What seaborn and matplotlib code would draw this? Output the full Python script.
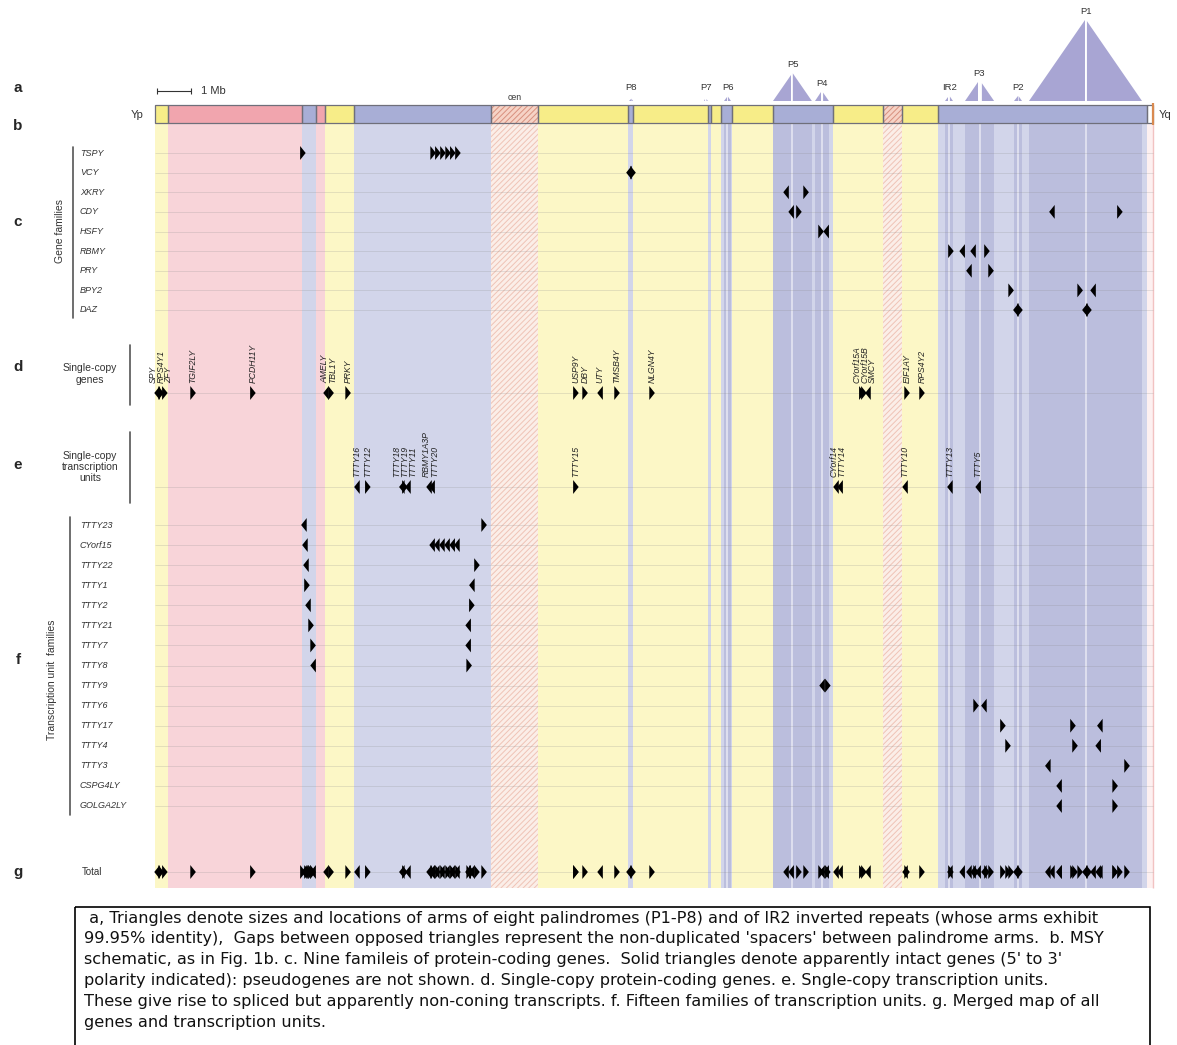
import matplotlib
matplotlib.use("Agg")
import matplotlib.pyplot as plt
import numpy as np
import pandas as pd
import seaborn as sns
from matplotlib.path import Path
from matplotlib.patches import Rectangle, Polygon

# ---- MSY schematic segments (Mb from Yp end) ----
seg_start = [0.00, 0.38, 4.32, 4.74, 5.00, 5.85, 9.88, 11.26, 13.91, 14.06, 16.26, 16.35,
             16.65, 16.97, 18.18, 19.94, 21.41, 21.97, 23.03, 29.18]
seg_end = [0.38, 4.32, 4.74, 5.00, 5.85, 9.88, 11.26, 13.91, 14.06, 16.26, 16.35, 16.65,
           16.97, 18.18, 19.94, 21.41, 21.97, 23.03, 29.18, 29.35]
seg_kind = ['X-degenerate', 'X-transposed', 'ampliconic', 'X-transposed', 'X-degenerate',
            'ampliconic', 'heterochromatic', 'X-degenerate', 'ampliconic', 'X-degenerate',
            'ampliconic', 'X-degenerate', 'ampliconic', 'X-degenerate', 'ampliconic',
            'X-degenerate', 'heterochromatic', 'X-degenerate', 'ampliconic', 'other']

# ---- palindromes: arm extents (Mb) ----
pal_names = ['P8', 'P7', 'P6', 'P5', 'P4', 'IR2', 'P3', 'P2', 'P1']
pal_arm1 = [(13.94, 13.99), (16.15, 16.19), (16.74, 16.82), (18.18, 18.71), (19.41, 19.59),
            (23.24, 23.32), (23.82, 24.21), (25.26, 25.37), (25.71, 27.35)]
pal_arm2 = [(14.01, 14.06), (16.22, 16.26), (16.85, 16.94), (18.76, 19.32), (19.65, 19.82),
            (23.38, 23.47), (24.32, 24.68), (25.40, 25.50), (27.41, 29.03)]

# ---- c. gene families ----
fam_names = ['TSPY', 'VCY', 'XKRY', 'CDY', 'HSFY', 'RBMY', 'PRY', 'BPY2', 'DAZ']
fam_pos = {
    'TSPY': [4.35, 8.18, 8.32, 8.47, 8.62, 8.76, 8.91],
    'VCY': [13.94, 14.06],
    'XKRY': [18.56, 19.15],
    'CDY': [18.71, 18.94, 26.38, 28.38],
    'HSFY': [19.59, 19.74],
    'RBMY': [23.41, 23.74, 24.06, 24.47],
    'PRY': [23.94, 24.59],
    'BPY2': [25.18, 27.21, 27.59],
    'DAZ': [25.32, 25.44, 27.35, 27.47],
}
fam_dir = {'TSPY': '>>>>>>>', 'VCY': '<>', 'XKRY': '<>', 'CDY': '<><>', 'HSFY': '><',
           'RBMY': '><<>', 'PRY': '<>', 'BPY2': '>><', 'DAZ': '<><>'}

# ---- d. single-copy genes ----
scg_names = ['SPY', 'RPS4Y1', 'ZFY', 'TGIF2LY', 'PCDH11Y', 'AMELY', 'TBL1Y', 'PRKY', 'USP9Y',
             'DBY', 'UTY', 'TMSB4Y', 'NLGN4Y', 'CYorf15A', 'CYorf15B', 'SMCY', 'EIF1AY', 'RPS4Y2']
scg_pos = [0.06, 0.18, 0.29, 1.12, 2.88, 5.03, 5.18, 5.68, 12.38, 12.65, 13.09, 13.59, 14.62,
           20.79, 20.85, 20.97, 22.12, 22.56]
scg_dir = '<>>>><>>>><>>>><>>'

# ---- e. single-copy transcription units ----
sctu_names = ['TTTY16', 'TTTY12', 'TTTY18', 'TTTY19', 'TTTY11', 'RBMY1A3P', 'TTTY20', 'TTTY15',
              'CYorf14', 'TTTY14', 'TTTY10', 'TTTY13', 'TTTY5']
sctu_pos = [5.94, 6.26, 7.26, 7.35, 7.44, 8.06, 8.15, 12.38, 20.03, 20.15, 22.06, 23.38, 24.21]
sctu_dir = '<><><<<><<<<<'

# ---- f. transcription unit families ----
tuf_names = ['TTTY23', 'CYorf15', 'TTTY22', 'TTTY1', 'TTTY2', 'TTTY21', 'TTTY7', 'TTTY8',
             'TTTY9', 'TTTY6', 'TTTY17', 'TTTY4', 'TTTY3', 'CSPG4LY', 'GOLGA2LY']
tuf_pos = {
    'TTTY23': [4.38, 9.68],
    'CYorf15': [4.41, 8.15, 8.29, 8.44, 8.59, 8.74, 8.88],
    'TTTY22': [4.44, 9.47],
    'TTTY1': [4.47, 9.32],
    'TTTY2': [4.50, 9.32],
    'TTTY21': [4.59, 9.21],
    'TTTY7': [4.65, 9.21],
    'TTTY8': [4.65, 9.24],
    'TTTY9': [19.62, 19.79],
    'TTTY6': [24.15, 24.38],
    'TTTY17': [24.94, 27.00, 27.79],
    'TTTY4': [25.09, 27.06, 27.74],
    'TTTY3': [26.26, 28.59],
    'CSPG4LY': [26.59, 28.24],
    'GOLGA2LY': [26.59, 28.24],
}
tuf_dir = {'TTTY23': '<>', 'CYorf15': '<<<<<<<', 'TTTY22': '<>', 'TTTY1': '><', 'TTTY2': '<>',
           'TTTY21': '><', 'TTTY7': '><', 'TTTY8': '<>', 'TTTY9': '<>', 'TTTY6': '><',
           'TTTY17': '>><', 'TTTY4': '>><', 'TTTY3': '<>', 'CSPG4LY': '<>', 'GOLGA2LY': '<>'}

caption = [
    " a, Triangles denote sizes and locations of arms of eight palindromes (P1-P8) and of IR2 inverted repeats (whose arms exhibit",
    "99.95% identity),  Gaps between opposed triangles represent the non-duplicated 'spacers' between palindrome arms.  b. MSY",
    "schematic, as in Fig. 1b. c. Nine famileis of protein-coding genes.  Solid triangles denote apparently intact genes (5' to 3'",
    "polarity indicated): pseudogenes are not shown. d. Single-copy protein-coding genes. e. Sngle-copy transcription units.",
    "These give rise to spliced but apparently non-coning transcripts. f. Fifteen families of transcription units. g. Merged map of all",
    "genes and transcription units.",
]

# ---- layout ----
W, H = 1177, 1045
X0, PX_PER_MB = 155, 34.0


def mb(px):
    return (px - X0) / PX_PER_MB


def spread(xs, gap):
    xs = np.asarray(xs, dtype=float)
    order = np.argsort(xs)
    orig = xs[order]
    out = orig.copy()
    for _ in range(5):
        for i in range(1, len(out)):
            if out[i] < out[i - 1] + gap:
                out[i] = out[i - 1] + gap
        start = 0
        for i in range(1, len(out) + 1):
            if i == len(out) or out[i] - out[i - 1] > gap + 1e-6:
                out[start:i] += orig[start:i].mean() - out[start:i].mean()
                start = i
    res = np.empty_like(out)
    res[order] = out
    return res


BAR_TOP, BAR_BOT, BAND_BOT, TRI_BASE = 105, 123, 888, 101
fam_y = dict(zip(fam_names, np.linspace(153, 310, len(fam_names))))
tuf_y = dict(zip(tuf_names, np.linspace(525, 806, len(tuf_names))))
SCG_Y, SCTU_Y, TOTAL_Y = 393, 487, 872

bar_color = {'X-degenerate': '#F7ED88', 'X-transposed': '#F1A5AE', 'ampliconic': '#A8AED6',
             'heterochromatic': '#F6D3C6', 'other': '#FFFFFF'}
band_color = {'X-degenerate': '#FCF7C6', 'X-transposed': '#F8D4D9', 'ampliconic': '#D2D5EA',
              'heterochromatic': '#FBEEE8', 'other': '#FDF0F0'}

sns.set_style("white")
plt.rcParams['font.family'] = ['Liberation Sans', 'DejaVu Sans']
plt.rcParams['hatch.linewidth'] = 0.7

fig = plt.figure(figsize=(W / 100, H / 100), dpi=100)
ax = fig.add_axes([0, 0, 1, 1])

# vertical bands and schematic bar
for s, e, k in zip(seg_start, seg_end, seg_kind):
    het = k == 'heterochromatic'
    ax.add_patch(Rectangle((s, BAR_BOT), e - s, BAND_BOT - BAR_BOT, facecolor=band_color[k],
                           edgecolor='#EFC3B6' if het else 'none', hatch='//////' if het else None,
                           lw=0, zorder=0))
    ax.add_patch(Rectangle((s, BAR_TOP), e - s, BAR_BOT - BAR_TOP, facecolor=bar_color[k],
                           edgecolor='#D8907E' if het else 'none', hatch='//////' if het else None,
                           lw=0, zorder=2))
    ax.add_patch(Rectangle((s, BAR_TOP), e - s, BAR_BOT - BAR_TOP, fill=False,
                           edgecolor='#6F6F7A', lw=0.9, zorder=3))
ax.vlines(seg_end[-1], BAR_BOT, BAND_BOT, color='#F2C2C2', lw=1.0, zorder=0)
ax.vlines(seg_end[-1], BAR_TOP - 2, BAR_BOT + 2, color='#D98A50', lw=1.6, zorder=3)

# palindromes: darker shading in bands + triangles above the bar
for name, a1, a2 in zip(pal_names, pal_arm1, pal_arm2):
    if a1[1] - a1[0] > 0.07:
        ax.add_patch(Rectangle((a1[0], BAR_BOT), a2[1] - a1[0], BAND_BOT - BAR_BOT,
                               facecolor='#BBBEDD', lw=0, zorder=0.2))
        ax.vlines((a1[1] + a2[0]) / 2, BAR_BOT, BAND_BOT, color='#E4E5F2', lw=1.2, zorder=0.3)
    h1 = 1.45 * PX_PER_MB * (a1[1] - a1[0])
    h2 = 1.45 * PX_PER_MB * (a2[1] - a2[0])
    ax.add_patch(Polygon([(a1[0], TRI_BASE), (a1[1], TRI_BASE), (a1[1], TRI_BASE - h1)],
                         closed=True, facecolor='#A8A5D3', edgecolor='none', zorder=2))
    ax.add_patch(Polygon([(a2[0], TRI_BASE), (a2[0], TRI_BASE - h2), (a2[1], TRI_BASE)],
                         closed=True, facecolor='#A8A5D3', edgecolor='none', zorder=2))
    ly = min(TRI_BASE - max(h1, h2) - 4, 92)
    ax.text((a1[0] + a2[1]) / 2, ly, name, ha='center', va='bottom', fontsize=6.8, color='#333333')

cen_i = seg_kind.index('heterochromatic')
ax.text((seg_start[cen_i] + seg_end[cen_i]) / 2, 102, 'cen', ha='center', va='bottom',
        fontsize=6.3, color='#333333')

# scale bar
ax.plot([0.05, 1.05], [91, 91], color='#333333', lw=0.8, marker='|', ms=4, mew=0.8)
ax.text(1.35, 91, '1 Mb', va='center', ha='left', fontsize=8, color='#333333')
ax.text(mb(137), 115, 'Yp', va='center', ha='center', fontsize=8, color='#333333')
ax.text(mb(1165), 115, 'Yq', va='center', ha='center', fontsize=8, color='#333333')

# faint row lines
row_ys = list(fam_y.values()) + [SCG_Y, SCTU_Y] + list(tuf_y.values()) + [TOTAL_Y]
ax.hlines(row_ys, 0, seg_end[-1], color='#8a8a8a', alpha=0.22, lw=0.7, zorder=1)

# markers
rows = []
for n in fam_names:
    rows += [(p, fam_y[n], d, 'c') for p, d in zip(fam_pos[n], fam_dir[n])]
rows += [(p, SCG_Y, d, 'd') for p, d in zip(scg_pos, scg_dir)]
rows += [(p, SCTU_Y, d, 'e') for p, d in zip(sctu_pos, sctu_dir)]
for n in tuf_names:
    rows += [(p, tuf_y[n], d, 'f') for p, d in zip(tuf_pos[n], tuf_dir[n])]
rows += [(p, TOTAL_Y, d, 'g') for p, _, d, _ in list(rows)]
df = pd.DataFrame(rows, columns=['pos', 'y', 'dir', 'panel'])

right_tri = Path([(-0.4, -1), (0.4, 0), (-0.4, 1), (-0.4, -1)],
                 [Path.MOVETO, Path.LINETO, Path.LINETO, Path.CLOSEPOLY])
left_tri = Path([(0.4, -1), (-0.4, 0), (0.4, 1), (0.4, -1)],
                [Path.MOVETO, Path.LINETO, Path.LINETO, Path.CLOSEPOLY])
sns.scatterplot(data=df, x='pos', y='y', style='dir', markers={'>': right_tri, '<': left_tri},
                color='black', s=100, linewidth=0, edgecolor='none', legend=False, ax=ax, zorder=5)

# rotated gene labels
for names, pos, y in [(scg_names, scg_pos, SCG_Y), (sctu_names, sctu_pos, SCTU_Y)]:
    for n, x in zip(names, spread(pos, 0.23)):
        ax.text(x, y - 10, n, rotation=90, ha='center', va='bottom', fontsize=6.2,
                style='italic', color='#222222')

# left-hand labels
for letter, y in zip('abcdefg', [88, 126, 222, 367, 465, 660, 872]):
    ax.text(mb(18), y, letter, fontsize=11, fontweight='bold', va='center', ha='center')
for n in fam_names:
    ax.text(mb(80), fam_y[n], n, fontsize=6.5, style='italic', va='center', color='#333333')
for n in tuf_names:
    ax.text(mb(80), tuf_y[n], n, fontsize=6.5, style='italic', va='center', color='#333333')
ax.text(mb(60), 231, 'Gene families', rotation=90, fontsize=7.5, va='center', ha='center',
        color='#333333')
ax.text(mb(52), 680, 'Transcription unit  families', rotation=90, fontsize=7.5, va='center',
        ha='center', color='#333333')
ax.text(mb(90), 374, 'Single-copy\ngenes', fontsize=7.5, va='center', ha='center',
        color='#333333', linespacing=1.15)
ax.text(mb(90), 467, 'Single-copy\ntranscription\nunits', fontsize=7.5, va='center',
        ha='center', color='#333333', linespacing=1.15)
ax.text(mb(92), TOTAL_Y, 'Total', fontsize=7, va='center', ha='center', color='#333333')
for xpx, y0, y1 in [(73, 147, 318), (130, 345, 405), (130, 432, 503), (70, 517, 815)]:
    ax.plot([mb(xpx), mb(xpx)], [y0, y1], color='#555555', lw=1.2)

# caption box
ax.add_patch(Rectangle((mb(75), 907), mb(1150) - mb(75), 160, fill=False, edgecolor='black',
                       lw=1.2, clip_on=False))
for i, line in enumerate(caption):
    ax.text(mb(84), 918 + 20.8 * i, line, fontsize=11.6, va='center', ha='left',
            family='DejaVu Sans', color='#111111')

ax.set_xlim(mb(0), mb(W))
ax.set_ylim(H, 0)
ax.set_axis_off()
fig.savefig('out.png', dpi=100)
